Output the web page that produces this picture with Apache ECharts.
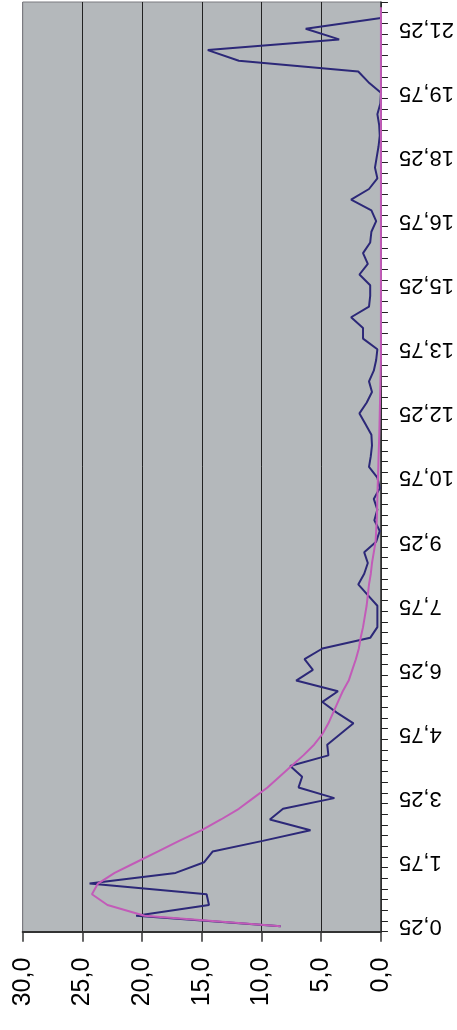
<!DOCTYPE html>
<html>
<head>
<meta charset="utf-8">
<script src="https://cdn.jsdelivr.net/npm/echarts@6/dist/echarts.min.js"></script>
<style>
html,body{margin:0;padding:0;background:#fff;}
#c{width:457px;height:1030px;}
</style>
</head>
<body>
<div id="c"></div>
<script>
const categories = ['0,25','0,5','0,75','1','1,25','1,5','1,75','2','2,25','2,5','2,75','3','3,25','3,5','3,75','4','4,25','4,5','4,75','5','5,25','5,5','5,75','6','6,25','6,5','6,75','7','7,25','7,5','7,75','8','8,25','8,5','8,75','9','9,25','9,5','9,75','10','10,25','10,5','10,75','11','11,25','11,5','11,75','12','12,25','12,5','12,75','13','13,25','13,5','13,75','14','14,25','14,5','14,75','15','15,25','15,5','15,75','16','16,25','16,5','16,75','17','17,25','17,5','17,75','18','18,25','18,5','18,75','19','19,25','19,5','19,75','20','20,25','20,5','20,75','21','21,25','21,5','21,75'];

const measured = [8.4, 20.5, 14.4, 14.6, 24.4, 17.2, 14.8, 14.1, 9.9, 5.9,
  9.3, 8.2, 3.9, 6.9, 6.6, 7.6, 4.4, 4.5, 3.4, 2.3,
  3.7, 4.9, 3.6, 7.1, 5.7, 6.4, 4.9, 0.9, 0.3, 0.3,
  0.3, 1.1, 1.9, 1.4, 1.1, 1.4, 0.4, 0.1, 0.55, 0.3,
  0.6, 0.1, 0.3, 1.0, 0.85, 0.75, 0.8, 1.3, 1.8, 1.2,
  0.75, 1.0, 0.6, 0.4, 0.3, 1.5, 1.5, 2.5, 1.0, 0.9,
  0.9, 1.8, 1.1, 1.5, 0.9, 0.8, 0.4, 0.8, 2.5, 1.0,
  0.3, 0.5, 0.35, 0.2, 0.1, 0.15, 0.3, 0.05, 0, 1.05,
  1.9, 11.9, 14.5, 3.5, 6.3, 0, null];

const trend = [8.4, 19.8, 22.9, 24.2, 23.7, 22.3, 20.5, 18.7, 16.9, 15.0,
  13.4, 11.9, 10.7, 9.5, 8.5, 7.5, 6.5, 5.6, 4.9, 4.4,
  4.0, 3.6, 3.2, 2.7, 2.4, 2.1, 1.85, 1.7, 1.5, 1.35,
  1.2, 1.1, 1.0, 0.85, 0.75, 0.6, 0.45, 0.4, 0.35, 0.32,
  0.3, 0.28, 0.25, 0.22, 0.2, 0.17, 0.14, 0.12, 0.1, 0.08,
  0.06, 0.04, 0.02, 0, 0, 0, 0, 0, 0, 0,
  0, 0, 0, 0, 0, 0, 0, 0, 0, 0,
  0, 0, 0, 0, 0, 0, 0, 0, 0, 0,
  0, 0, 0, 0, 0, 0, 0];

const valueTickLabels = {0:'0,0',5:'5,0',10:'10,0',15:'15,0',20:'20,0',25:'25,0',30:'30,0'};

const chart = echarts.init(document.getElementById('c'), null, {renderer:'canvas'});
chart.setOption({
  animation: false,
  backgroundColor: '#ffffff',
  grid: {
    left: 22.7, right: 73.7, top: 2, bottom: 98.3,
    show: true, backgroundColor: '#b4b8bb', borderColor: '#7a7a80', borderWidth: 1
  },
  xAxis: {
    type: 'value', min: 0, max: 30, interval: 5, inverse: true, position: 'bottom',
    axisLine: {show: true, onZero: false, lineStyle: {color: '#333333', width: 2}},
    axisTick: {show: true, length: 10, lineStyle: {color: '#333333', width: 1.5}},
    axisLabel: {
      rotate: 90, margin: 26, fontSize: 25, color: '#000',
      fontFamily: 'Liberation Sans, Arial, sans-serif',
      formatter: v => valueTickLabels[v] !== undefined ? valueTickLabels[v] : ''
    },
    splitLine: {show: true, lineStyle: {color: ['#222','#222','#222','#222','#222','#222','#7a7a80'], width: 1}}
  },
  yAxis: {
    type: 'category', position: 'right', data: categories, boundaryGap: true,
    axisLine: {show: true, lineStyle: {color: '#333333', width: 1.5}},
    axisTick: {show: true, interval: 0, length: 7, lineStyle: {color: '#222222', width: 1}},
    axisLabel: {
      interval: 5, rotate: 180, margin: 18, fontSize: 22, color: '#000',
      fontFamily: 'Liberation Sans, Arial, sans-serif'
    },
    splitLine: {show: false}
  },
  series: [
    {
      type: 'line', data: measured, symbol: 'none', connectNulls: false,
      lineStyle: {color: '#2c2878', width: 2}, z: 2
    },
    {
      type: 'line', data: trend, symbol: 'none',
      lineStyle: {color: '#c25bb8', width: 2}, z: 3
    }
  ]
});
</script>
</body>
</html>
